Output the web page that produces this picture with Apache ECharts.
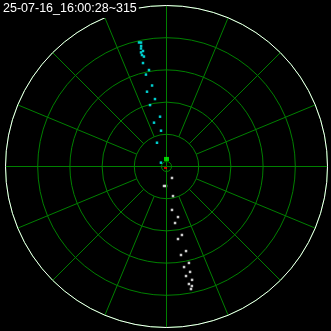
<!DOCTYPE html>
<html>
<head>
<meta charset="utf-8">
<script src="https://cdn.jsdelivr.net/npm/echarts@6/dist/echarts.min.js"></script>
<style>
html,body{margin:0;padding:0;background:#000;}
#chart{width:331px;height:331px;}
</style>
</head>
<body>
<div id="chart"></div>
<script>
const titleText = '25-07-16_16:00:28~315';
// radius (0-100 scale) and azimuth (degrees clockwise from top)
const cyanRadius = [78.9, 78.6, 76.5, 75.0, 73.2, 72.6, 70.9, 69.7, 65.9, 60.9, 58.5, 51.1, 48.0, 42.5, 39.5, 31.2, 28.3, 22.5, 15.9, 4.2];
const cyanAngle  = [347.5, 348.4, 348.1, 347.8, 348.5, 347.4, 347.6, 348.4, 347.2, 349.7, 347.4, 349.9, 345.4, 350.3, 345.0, 352.6, 344.1, 351.3, 338.2, 304.6];
const whiteRadius = [7.9, 12.2, 12.1, 18.8, 27.2, 32.2, 35.5, 43.6, 45.6, 53.9, 55.7, 61.5, 63.4, 67.1, 69.1, 72.2, 74.3, 75.9, 77.6];
const whiteAngle  = [154.4, 187.3, 181.5, 167.6, 172.8, 167.2, 171.4, 167.3, 171.0, 167.0, 170.7, 166.9, 170.1, 167.4, 169.9, 167.3, 169.2, 168.0, 168.7];
const greenRadius = [4.7];
const greenAngle = [0];
const redRadius = [1.1];
const redAngle = [213.7];
const radiusMax = 100;
const radiusStep = 20;
const spokeStep = 22.5;

function pairs(r, a) { return r.map((v, i) => [v, a[i]]); }

const GRID = '#008000';
const C = [166.5, 166.5];
const R = 161;

const chart = echarts.init(document.getElementById('chart'), null, {renderer: 'canvas'});
chart.setOption({
  backgroundColor: '#000',
  animation: false,
  title: {
    text: titleText,
    left: 1, top: 0,
    padding: [2, 2, 3, 2],
    backgroundColor: '#000',
    z: 10,
    textStyle: {color: '#fff', fontSize: 12.5, fontWeight: 'normal', fontFamily: 'Liberation Sans, Arial, sans-serif'}
  },
  polar: [
    {center: C, radius: R},
    {center: C, radius: [R / 5, R]},
    {center: C, radius: 5}
  ],
  angleAxis: [
    {polarIndex: 0, type: 'value', min: 0, max: 360, interval: 90, startAngle: 90, clockwise: true, z: 5,
     axisLine: {show: true, lineStyle: {color: '#fff', width: 1}},
     axisTick: {show: false}, axisLabel: {show: false},
     splitLine: {show: true, lineStyle: {color: GRID, width: 1}}},
    {polarIndex: 1, type: 'value', min: 0, max: 360, interval: spokeStep, startAngle: 90, clockwise: true,
     axisLine: {show: false}, axisTick: {show: false}, axisLabel: {show: false},
     splitLine: {show: true, lineStyle: {color: GRID, width: 1}}},
    {polarIndex: 2, type: 'value', min: 0, max: 360, interval: 90, startAngle: 90, clockwise: true,
     axisLine: {show: true, lineStyle: {color: GRID, width: 1}},
     axisTick: {show: false}, axisLabel: {show: false}, splitLine: {show: false}}
  ],
  radiusAxis: [
    {polarIndex: 0, type: 'value', min: 0, max: radiusMax, interval: radiusStep,
     axisLine: {show: false}, axisTick: {show: false}, axisLabel: {show: false},
     splitLine: {show: true, lineStyle: {color: GRID, width: 1}}},
    {polarIndex: 1, type: 'value', min: 0, max: radiusMax, show: false},
    {polarIndex: 2, type: 'value', min: 0, max: radiusMax, show: false}
  ],
  series: [
    {type: 'scatter', coordinateSystem: 'polar', polarIndex: 0, symbol: 'rect', symbolSize: 2.5,
     itemStyle: {color: '#00ffff'}, data: pairs(cyanRadius, cyanAngle), z: 4},
    {type: 'scatter', coordinateSystem: 'polar', polarIndex: 0, symbol: 'rect', symbolSize: 2.5,
     itemStyle: {color: '#ffffff'}, data: pairs(whiteRadius, whiteAngle), z: 4},
    {type: 'scatter', coordinateSystem: 'polar', polarIndex: 0, symbol: 'rect', symbolSize: [5, 4],
     itemStyle: {color: '#00ff00'}, data: pairs(greenRadius, greenAngle), z: 5},
    {type: 'scatter', coordinateSystem: 'polar', polarIndex: 0, symbol: 'rect', symbolSize: [3, 2],
     itemStyle: {color: '#ff0000'}, data: pairs(redRadius, redAngle), z: 5}
  ]
});
</script>
</body>
</html>
